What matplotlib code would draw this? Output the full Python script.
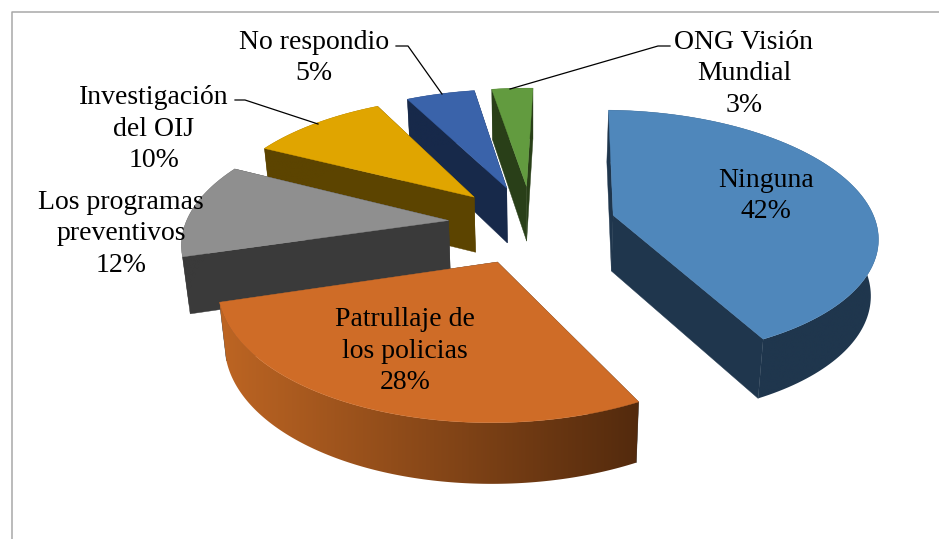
import numpy as np
import matplotlib
matplotlib.use("Agg")
import matplotlib.pyplot as plt
from matplotlib.colors import to_rgb
from matplotlib.patches import Polygon

labels = ["Ninguna", "Patrullaje de\nlos policias", "Los programas\npreventivos",
          "Investigación\ndel OIJ", "No respondio", "ONG Visión\nMundial"]
values = [42, 28, 12, 10, 5, 3]

top_colors = ["#4f87bb", "#cf6c27", "#8f8f8f", "#e0a500", "#3a63aa", "#629b3f"]
side_colors = ["#1f364d", "#3a3a3a", "#3a3a3a", "#5c4400", "#17294a", "#293f18"]
wall_left = ["#1f364d", "#bd6523", "#3a3a3a", "#5c4400", "#17294a", "#293f18"]
wall_right = ["#1f364d", "#532a0d", "#3a3a3a", "#5c4400", "#17294a", "#293f18"]
label_xy = [(766, 196), (405, 351), (121, 234), (154, 129), (314, 58), (744, 74)]

# fake camera for the plane of the pie
CX, CY = 532, 224
A, B, K = 123.5, 263, 0.151
EXPLODE = 0.32
START = np.radians(1.5)


def project(u, v, z=0.0):
    den = 1 + K * v
    x = CX + B * u / den
    y = CY - A * v / den + z * (56 - 4 * v)
    x = CX + (x - CX) * (1 - 0.022 * z)
    return x, y


fig = plt.figure(figsize=(9.39, 5.39), dpi=100)
ax = fig.add_axes([0, 0, 1, 1])
ax.axis("off")

ax.plot([11.5, 11.5, 939], [539, 11.5, 11.5], color="#a8a8a8", lw=1.1)

total = sum(values)
ends = START + np.cumsum(values) / total * 2 * np.pi
starts = ends - np.array(values) / total * 2 * np.pi

for i in [5, 4, 3, 2, 0, 1]:
    t = np.linspace(starts[i], ends[i], 120)
    mid = (starts[i] + ends[i]) / 2
    u0 = EXPLODE * np.sin(mid)
    v0 = EXPLODE * np.cos(mid)
    u = u0 + np.sin(t)
    v = v0 + np.cos(t)

    # the two cut faces
    for j in [0, -1]:
        p = [project(u0, v0), project(u[j], v[j]), project(u[j], v[j], 1), project(u0, v0, 1)]
        ax.fill(*zip(*p), color=side_colors[i], lw=0.3, zorder=2)

    # outer wall, shaded along x
    x1, y1 = project(u, v)
    x2, y2 = project(u, v, 1)
    wall = Polygon(np.c_[np.r_[x1, x2[::-1]], np.r_[y1, y2[::-1]]], closed=True,
                   transform=ax.transData, fc="none", ec="none")
    ax.add_patch(wall)
    c0, c1 = np.array(to_rgb(wall_left[i])), np.array(to_rgb(wall_right[i]))
    grad = np.linspace(c0, c1, 256)[None, :, :]
    im = ax.imshow(grad, extent=[x1.min(), x1.max(), y2.max() + 2, y1.min() - 2], aspect="auto",
                   interpolation="bilinear", zorder=2)
    im.set_clip_path(wall)

    ax0, ay0 = project(u0, v0)
    ax.fill(np.r_[ax0, x1], np.r_[ay0, y1], color=top_colors[i], lw=0.3, zorder=2)

ax.plot([396, 408, 442], [46, 46, 94], color="black", lw=0.9, zorder=3)
ax.plot([670, 658, 510], [46, 46, 89], color="black", lw=0.9, zorder=3)
ax.plot([235, 245, 318], [100, 100, 124], color="black", lw=0.9, zorder=3)

for name, val, (x, y) in zip(labels, values, label_xy):
    ax.text(x, y, f"{name}\n{val}%", ha="center", va="center", family="Liberation Serif",
            fontsize=20, linespacing=1.36, color="black", zorder=4)

ax.set_xlim(0, 939)
ax.set_ylim(539, 0)

fig.savefig("out.png", dpi=100)
